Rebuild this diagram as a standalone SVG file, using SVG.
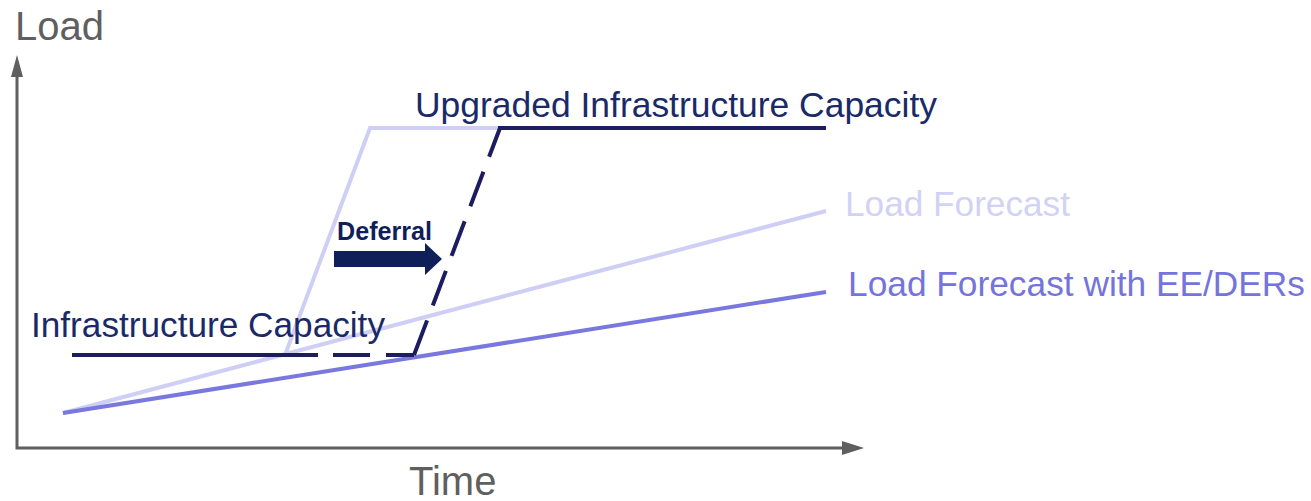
<svg xmlns="http://www.w3.org/2000/svg" width="1311" height="501" viewBox="0 0 1311 501">
<style>
text{font-family:"Liberation Sans",Arial,sans-serif}
.axis{stroke:#5f5f5f;stroke-width:3;fill:none}
.ax{fill:#5f5f5f;font-size:40px}
.lt{stroke:#cfcff5;stroke-width:4;fill:none;stroke-linejoin:miter}
.ee{stroke:#7878de;stroke-width:4;fill:none}
.dk{stroke:#1c1c5e;stroke-width:4;fill:none}
.dash{stroke-dasharray:37 16}
.navy{fill:#1a2a68;font-size:35px}
</style>
<rect width="1311" height="501" fill="#fff"/>
<g id="axes">
<path class="axis" d="M17,75 L17,448 L845,448"/>
<polygon points="17,55 11,77 23,77" fill="#5f5f5f"/>
<polygon points="864,448 842,441 842,455" fill="#5f5f5f"/>
<text class="ax" x="15" y="40">Load</text>
<text class="ax" x="409" y="495">Time</text>
</g>
<g id="connectors">
<polyline class="lt" points="63,413 826,211"/>
<polyline class="lt" points="285,355 370,128 500,128"/>
<polyline class="ee" points="63,413 826,292"/>
<line class="dk" x1="72" y1="355" x2="318" y2="355"/>
<line class="dk dash" x1="333" y1="355" x2="414" y2="355"/>
<line class="dk dash" x1="414" y1="355" x2="500" y2="128"/>
<line class="dk" x1="498" y1="128" x2="826" y2="128"/>
</g>
<g id="upgraded">
<text class="navy" x="415" y="117" textLength="522" lengthAdjust="spacingAndGlyphs">Upgraded Infrastructure Capacity</text>
</g>
<g id="infra">
<text class="navy" x="31" y="337" textLength="354" lengthAdjust="spacingAndGlyphs">Infrastructure Capacity</text>
</g>
<g id="forecast">
<text x="845" y="216" font-size="35" fill="#d2d2f5" textLength="225" lengthAdjust="spacingAndGlyphs">Load Forecast</text>
</g>
<g id="forecast-ee">
<text x="848" y="296" font-size="35" fill="#7474dc" textLength="457" lengthAdjust="spacingAndGlyphs">Load Forecast with EE/DERs</text>
</g>
<g id="deferral">
<text x="337" y="240" font-size="25" font-weight="bold" fill="#0f1f5a" textLength="95" lengthAdjust="spacingAndGlyphs">Deferral</text>
<polygon points="334,251 425,251 425,243 442,259 425,275 425,267 334,267" fill="#0f1f5a"/>
</g>
</svg>
